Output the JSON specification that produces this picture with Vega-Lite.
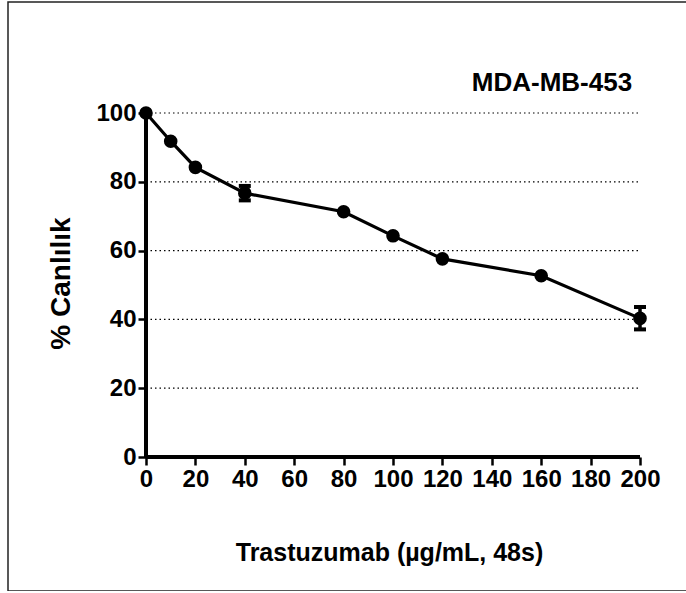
{
  "$schema": "https://vega.github.io/schema/vega-lite/v6.json",
  "width": 682,
  "height": 589,
  "autosize": {"type": "none"},
  "padding": {"left": 8, "top": 2, "right": 0, "bottom": 0},
  "background": "white",
  "config": {
    "view": {"stroke": "#222", "strokeWidth": 1.5},
    "font": "Liberation Sans"
  },
  "datasets": {
    "viability": [
      {"dose": 0, "pct": 100},
      {"dose": 10, "pct": 91.8},
      {"dose": 20, "pct": 84.2},
      {"dose": 40, "pct": 76.7, "lo": 74.6, "hi": 78.8},
      {"dose": 80, "pct": 71.3},
      {"dose": 100, "pct": 64.3},
      {"dose": 120, "pct": 57.6},
      {"dose": 160, "pct": 52.7},
      {"dose": 200, "pct": 40.3, "lo": 37.1, "hi": 43.6}
    ],
    "grid": [{"g": 20}, {"g": 40}, {"g": 60}, {"g": 80}, {"g": 100}]
  },
  "layer": [
    {
      "data": {"name": "grid"},
      "mark": {"type": "rule", "color": "black", "strokeWidth": 1.2, "strokeDash": [1.5, 3]},
      "encoding": {
        "y": {
          "field": "g", "type": "quantitative", "title": "% Canlılık",
          "scale": {"domain": [-38.95, 132.27], "nice": false, "zero": false},
          "axis": {
            "values": [0, 20, 40, 60, 80, 100],
            "domain": false, "grid": false, "offset": -138,
            "tickSize": 8, "tickWidth": 2.5, "tickColor": "black",
            "labelFontSize": 24, "labelFontWeight": "bold", "labelColor": "black",
            "labelPadding": 2, "labelFlush": false,
            "title": "% Canlılık", "titleFontSize": 28, "titleFontWeight": "bold",
            "titleColor": "black", "titlePadding": 20, "titleY": 281
          }
        },
        "x": {
          "datum": 0, "type": "quantitative", "title": "Trastuzumab (µg/mL, 48s)",
          "scale": {"domain": [-55.87, 220.24], "nice": false, "zero": false},
          "axis": {
            "values": [0, 20, 40, 60, 80, 100, 120, 140, 160, 180, 200],
            "domain": false, "grid": false, "offset": -134,
            "tickSize": 8, "tickWidth": 2.5, "tickColor": "black",
            "labelFontSize": 24, "labelFontWeight": "bold", "labelColor": "black",
            "labelPadding": 2, "labelFlush": false,
            "title": "Trastuzumab (µg/mL, 48s)", "titleFontSize": 25, "titleFontWeight": "bold",
            "titleColor": "black", "titlePadding": 49, "titleX": 381
          }
        },
        "x2": {"datum": 200}
      }
    },
    {
      "data": {"name": "viability"},
      "mark": {"type": "line", "color": "black", "strokeWidth": 3.2},
      "encoding": {
        "x": {"field": "dose", "type": "quantitative", "title": "Trastuzumab (µg/mL, 48s)"},
        "y": {"field": "pct", "type": "quantitative", "title": "% Canlılık"}
      }
    },
    {
      "data": {"name": "viability"},
      "mark": {"type": "rule", "color": "black", "strokeWidth": 3},
      "encoding": {
        "x": {"datum": 0, "type": "quantitative"},
        "y": {"datum": 0, "type": "quantitative"},
        "y2": {"datum": 100}
      }
    },
    {
      "data": {"name": "viability"},
      "mark": {"type": "rule", "color": "black", "strokeWidth": 3},
      "encoding": {
        "y": {"datum": 0, "type": "quantitative"},
        "x": {"datum": 0, "type": "quantitative"},
        "x2": {"datum": 200}
      }
    },
    {
      "data": {"name": "viability"},
      "transform": [{"filter": "datum.lo != null"}],
      "mark": {"type": "errorbar", "color": "black", "opacity": 1, "ticks": {"size": 12, "thickness": 4, "color": "black", "opacity": 1}, "rule": {"strokeWidth": 3.5, "color": "black", "opacity": 1}},
      "encoding": {
        "x": {"field": "dose", "type": "quantitative", "title": "Trastuzumab (µg/mL, 48s)"},
        "y": {"field": "lo", "type": "quantitative", "title": "% Canlılık"},
        "y2": {"field": "hi"}
      }
    },
    {
      "data": {"name": "viability"},
      "mark": {"type": "point", "shape": "circle", "filled": true, "color": "black", "opacity": 1, "size": 185},
      "encoding": {
        "x": {"field": "dose", "type": "quantitative", "title": "Trastuzumab (µg/mL, 48s)"},
        "y": {"field": "pct", "type": "quantitative", "title": "% Canlılık"}
      }
    },
    {
      "data": {"name": "viability"},
      "transform": [{"filter": "datum.dose == 200"}],
      "mark": {"type": "text", "text": "MDA-MB-453", "align": "right", "baseline": "middle", "fontSize": 26, "fontWeight": "bold", "color": "black"},
      "encoding": {
        "x": {"datum": 196.8, "type": "quantitative"},
        "y": {"datum": 108.7, "type": "quantitative"}
      }
    }
  ]
}
